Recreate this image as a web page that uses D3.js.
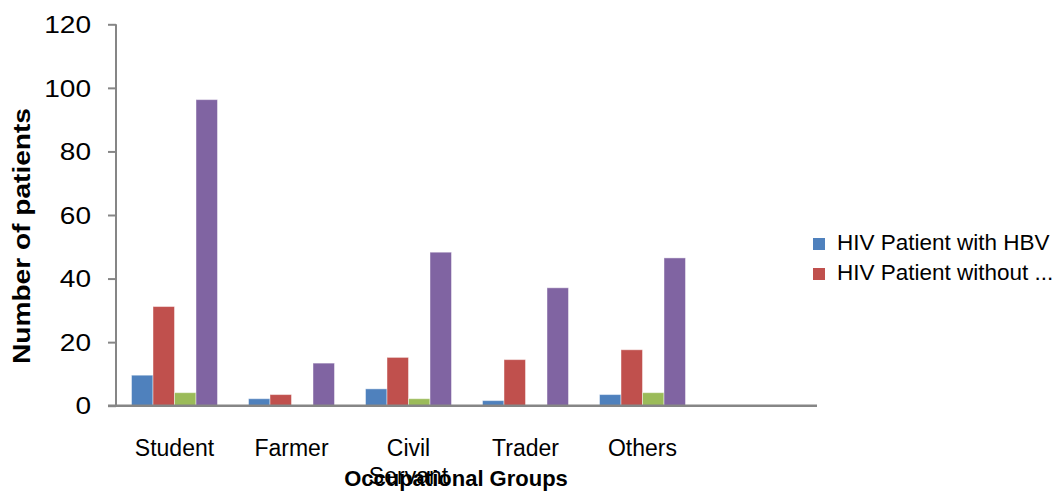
<!DOCTYPE html>
<html>
<head>
<meta charset="utf-8">
<script src="https://cdn.jsdelivr.net/npm/d3@7"></script>
<style>
  html, body { margin: 0; padding: 0; background: #fff; }
  svg { display: block; font-family: "Liberation Sans", Arial, sans-serif; }
</style>
</head>
<body>
<svg id="chart" width="1060" height="495"></svg>
<script>
// Occupational groups (the axis leaves one empty slot on the right)
const categories = ["Student", "Farmer", "Civil Servant", "Trader", "Others"];
const slotCount = 6;

// Number of patients per group, one array per series
const seriesA = [9.6, 2.2, 5.3, 1.6, 3.5];     // blue
const seriesB = [31.2, 3.5, 15.2, 14.5, 17.6]; // red
const seriesC = [4.1, 0, 2.2, 0, 4.1];         // green
const seriesD = [96.3, 13.4, 48.3, 37.1, 46.5]; // purple

const legendLabels = ["HIV Patient with HBV", "HIV Patient without ..."];
const yTicks = [0, 20, 40, 60, 80, 100, 120];

const colors = ["#4F81BD", "#C0504D", "#9BBB59", "#8064A2"];
const series = [seriesA, seriesB, seriesC, seriesD];

const svg = d3.select("#chart");
const plotLeft = 116, plotRight = 818, plotTop = 24.3, plotBottom = 405.7;

const y = d3.scaleLinear().domain([0, 120]).range([plotBottom, plotTop]);
const x0 = d3.scaleBand().domain(d3.range(slotCount)).range([plotLeft, plotRight]).padding(0);
const groupW = 86;
const x1 = d3.scaleBand().domain(d3.range(series.length))
  .range([(x0.bandwidth() - groupW) / 2, (x0.bandwidth() + groupW) / 2]).padding(0);

// bars
const g = svg.append("g");
series.forEach((vals, si) => {
  g.selectAll(null)
    .data(vals.map((v, i) => ({ v, i })).filter(d => d.v > 0))
    .enter().append("rect")
    .attr("x", d => x0(d.i) + x1(si))
    .attr("y", d => y(d.v))
    .attr("width", x1.bandwidth())
    .attr("height", d => y(0) - y(d.v))
    .attr("fill", colors[si])
    .attr("stroke", "rgba(255,255,255,0.45)")
    .attr("stroke-width", 1);
});

// y axis
const yAxis = d3.axisLeft(y).tickValues(yTicks).tickSize(8).tickPadding(17);
const ya = svg.append("g").attr("transform", `translate(${plotLeft},0)`).call(yAxis);
ya.select(".domain").attr("stroke", "#868686").attr("stroke-width", 2)
  .attr("d", `M0,${plotTop}V${plotBottom}`);
ya.selectAll(".tick line").attr("stroke", "#868686").attr("stroke-width", 2);
ya.selectAll(".tick text").attr("fill", "#000").style("font-size", "23px")
  .attr("dy", "0.36em")
  .attr("textLength", d => String(d).length * 15.6)
  .attr("lengthAdjust", "spacingAndGlyphs");

// x axis baseline
svg.append("line")
  .attr("x1", plotLeft - 8).attr("x2", plotRight - 1)
  .attr("y1", y(0)).attr("y2", y(0))
  .attr("stroke", "#868686").attr("stroke-width", 2.5);

// category labels (wrap two-word names onto two lines)
categories.forEach((c, i) => {
  const words = c.split(" ");
  const t = svg.append("text")
    .attr("x", x0(i) + x0.bandwidth() / 2)
    .attr("y", 456)
    .attr("text-anchor", "middle")
    .style("font-size", "23px")
    .attr("fill", "#000");
  words.forEach((w, k) => {
    t.append("tspan").attr("x", x0(i) + x0.bandwidth() / 2)
      .attr("dy", k === 0 ? 0 : 28).text(w);
  });
});

// axis titles
svg.append("text")
  .attr("x", 456).attr("y", 486)
  .attr("text-anchor", "middle")
  .style("font-size", "22px").style("font-weight", "bold")
  .text("Occupational Groups");

svg.append("text")
  .attr("transform", "translate(30,236) rotate(-90)")
  .attr("text-anchor", "middle")
  .style("font-size", "24px").style("font-weight", "bold")
  .attr("textLength", 256)
  .attr("lengthAdjust", "spacingAndGlyphs")
  .text("Number of patients");

// legend
const lg = svg.append("g").attr("transform", "translate(813,238)");
legendLabels.forEach((l, i) => {
  lg.append("rect").attr("x", 0).attr("y", i * 30).attr("width", 12).attr("height", 12)
    .attr("fill", colors[i]);
  lg.append("text").attr("x", 24).attr("y", i * 30 + 12)
    .style("font-size", "22.5px").attr("fill", "#000").text(l);
});
</script>
</body>
</html>
